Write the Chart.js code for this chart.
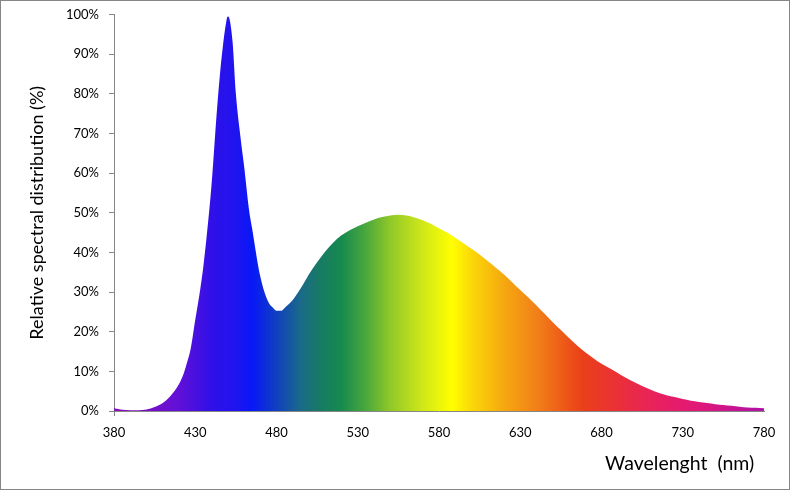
<!DOCTYPE html>
<html>
<head>
<meta charset="utf-8">
<script src="https://cdn.jsdelivr.net/npm/chart.js@4/dist/chart.umd.min.js"></script>
<style>
  body { margin: 0; background: #fff; }
</style>
</head>
<body>
<canvas id="myChart" width="790" height="490"></canvas>
<script>
// Data
const wavelengths = [
  380, 385, 390, 395, 400, 405, 410, 415, 420, 423, 425, 427, 430, 433, 435, 437, 440, 443, 445, 447, 449, 450,
  451, 453, 455, 458, 460, 463, 465, 470, 475, 478, 480, 483, 485, 490, 495, 500, 505, 510,
  515, 520, 525, 530, 535, 540, 545, 550, 555, 560, 565, 570, 575, 580, 585, 590, 595, 600,
  605, 610, 615, 620, 625, 630, 635, 640, 645, 650, 655, 660, 665, 670, 675, 680, 685, 690,
  695, 700, 705, 710, 715, 720, 725, 730, 735, 740, 745, 750, 755, 760, 765, 770, 775, 780
];
const relative = [
  0.7, 0.3, 0.2, 0.2, 0.4, 1.0, 2.0, 3.9, 6.8, 9.6, 12.3, 15.3, 23, 30.5, 36.5, 44, 57, 74, 84, 92, 98, 99.5,
  99, 93, 80, 68.5, 62, 51, 46, 34, 27.5, 26, 25.3, 25.3, 26, 28, 31, 34.5, 37.5, 40.2,
  42.5, 44.3, 45.6, 46.6, 47.5, 48.3, 48.9, 49.3, 49.5, 49.3, 48.8, 48.1, 47.2, 46.1, 45, 43.7, 42.3, 40.9,
  39.5, 37.8, 36.1, 34.4, 32.5, 30.5, 28.6, 26.6, 24.5, 22.4, 20.4, 18.4, 16.5, 14.8, 13.3, 11.9, 10.8, 9.6,
  8.4, 7.3, 6.3, 5.4, 4.6, 4.0, 3.5, 3.0, 2.6, 2.3, 2.0, 1.7, 1.5, 1.3, 1.1, 0.9, 0.8, 0.7
];
const xTicks = [380, 430, 480, 530, 580, 630, 680, 730, 780];

// spectrum colours for the fill
const stopNm = [380, 400, 420, 440, 455, 465, 480, 495, 505, 520, 535, 550, 570, 588, 600, 620, 640, 668, 690, 715, 740, 780];
const stopColors = [
  '#8a10b8', '#7a10c8', '#6010d8', '#3010e8', '#1f14f0', '#0818f8', '#1040c0', '#1a6a88', '#187868',
  '#168a4e', '#4aa83c', '#90c828', '#d0e818', '#ffff00', '#fbd808', '#f5a810', '#f28018', '#ea4018',
  '#ea3038', '#e82060', '#e01878', '#b010a8'
];

const fontFamily = 'Lato, "Open Sans", sans-serif';
const axisGray = '#868686';

const spectrumFill = (context) => {
  const chart = context.chart;
  const {ctx, chartArea, scales} = chart;
  if (!chartArea) return '#8000ff';
  const x0 = scales.x.getPixelForValue(stopNm[0]);
  const x1 = scales.x.getPixelForValue(stopNm[stopNm.length - 1]);
  const grad = ctx.createLinearGradient(x0, 0, x1, 0);
  for (let i = 0; i < stopNm.length; i++) {
    grad.addColorStop((stopNm[i] - stopNm[0]) / (stopNm[stopNm.length - 1] - stopNm[0]), stopColors[i]);
  }
  return grad;
};

// outer frame like the original chart area
const framePlugin = {
  id: 'frame',
  afterDraw(chart) {
    const ctx = chart.ctx;
    ctx.save();
    ctx.strokeStyle = axisGray;
    ctx.lineWidth = 1;
    ctx.strokeRect(0.5, 0.5, chart.width - 1, chart.height - 1);
    ctx.restore();
  }
};

const ctx = document.getElementById('myChart').getContext('2d');
const myChart = new Chart(ctx, {
  type: 'line',
  data: {
    datasets: [{
      label: 'Relative spectral distribution',
      data: wavelengths.map((w, i) => ({x: w, y: relative[i]})),
      backgroundColor: spectrumFill,
      borderWidth: 0,
      pointRadius: 0,
      fill: 'origin',
      cubicInterpolationMode: 'monotone'
    }]
  },
  options: {
    responsive: false,
    animation: false,
    layout: {padding: {left: 0, right: 26, top: 14.5, bottom: 0}},
    plugins: {legend: {display: false}, tooltip: {enabled: false}},
    scales: {
      x: {
        type: 'linear',
        min: 380,
        max: 780,
        afterBuildTicks: (scale) => { scale.ticks = xTicks.map(v => ({value: v})); },
        afterFit: (scale) => { scale.height = 79; },
        ticks: {color: '#000', padding: 9, font: {family: fontFamily, size: 13}},
        grid: {
          drawOnChartArea: false,
          tickLength: 5,
          color: (c) => c.index === 0 ? axisGray : 'rgba(0,0,0,0)'
        },
        border: {color: axisGray},
        title: {
          display: true,
          text: 'Wavelenght  (nm)\u2002',
          align: 'end',
          color: '#000',
          font: {family: fontFamily, size: 19.5},
          padding: {top: 0, bottom: 15}
        }
      },
      y: {
        min: 0,
        max: 100,
        afterFit: (scale) => {
          scale.width = 114;
          scale.paddingTop = 0;
          scale.paddingBottom = 0;
        },
        ticks: {
          stepSize: 10,
          color: '#000',
          padding: 10,
          font: {family: fontFamily, size: 13},
          callback: (v) => v + '%'
        },
        grid: {drawOnChartArea: false, tickLength: 5, color: axisGray},
        border: {color: axisGray},
        title: {
          display: true,
          text: 'Relative spectral distribution (%)',
          color: '#000',
          font: {family: fontFamily, size: 18},
          padding: {top: 26, bottom: 0}
        }
      }
    }
  },
  plugins: [framePlugin]
});
</script>
</body>
</html>
